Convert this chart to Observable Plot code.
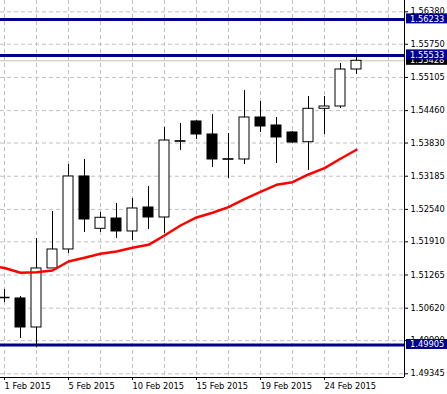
<!DOCTYPE html>
<html><head><meta charset="utf-8">
<script src="https://cdn.jsdelivr.net/npm/d3@7"></script>
<script src="https://cdn.jsdelivr.net/npm/@observablehq/plot@0.6"></script>
<style>body{margin:0;background:#fff;}</style>
</head><body><div id="chart"></div>
<script>
const days = ["2015-02-01","2015-02-02","2015-02-03","2015-02-04","2015-02-05","2015-02-06","2015-02-08","2015-02-09","2015-02-10","2015-02-11","2015-02-12","2015-02-13","2015-02-15","2015-02-16","2015-02-17","2015-02-18","2015-02-19","2015-02-20","2015-02-22","2015-02-23","2015-02-24","2015-02-25","2015-02-26"];
const open  = [1.50823,1.50809,1.50245,1.51392,1.51761,1.53180,1.52163,1.52363,1.52111,1.52577,1.52383,1.53865,1.54249,1.53996,1.53515,1.53510,1.54326,1.54171,1.54035,1.53846,1.54495,1.54540,1.55259];
const high  = [1.50984,1.50848,1.51975,1.52499,1.53413,1.53510,1.52480,1.52655,1.52752,1.52985,1.54132,1.54210,1.54268,1.54385,1.54015,1.54851,1.54637,1.54326,1.54054,1.54734,1.54734,1.55376,1.55531];
const low   = [1.50731,1.50031,1.49850,1.51388,1.51683,1.52091,1.52091,1.51975,1.51936,1.52150,1.52072,1.53685,1.53899,1.53355,1.53141,1.53413,1.54035,1.53432,1.53821,1.53296,1.53996,1.54501,1.55162];
const close = [1.50813,1.50245,1.51392,1.51761,1.53180,1.52344,1.52377,1.52111,1.52558,1.52383,1.53879,1.53855,1.53996,1.53510,1.53505,1.54326,1.54151,1.53938,1.53840,1.54495,1.54540,1.55259,1.55428];
// moving average, first value belongs to the bar before 1 Feb
const ma = [1.51450,1.51401,1.51308,1.51320,1.51353,1.51528,1.51600,1.51677,1.51722,1.51796,1.51852,1.52033,1.52227,1.52383,1.52474,1.52583,1.52738,1.52880,1.53018,1.53069,1.53219,1.53341,1.53524,1.53699];
const levels = [1.56233, 1.55533, 1.49905];
const yTicks = [1.56380,1.55750,1.55105,1.54460,1.53830,1.53185,1.52540,1.51910,1.51265,1.50620,1.49990,1.49345];
const xTickIndex = [0,4,8,12,16,20];
const xTickLabels = ["1 Feb 2015","5 Feb 2015","10 Feb 2015","15 Feb 2015","19 Feb 2015","24 Feb 2015"];
const bid = close[close.length-1];

const candles = days.map((d,i)=>({i, day:d, open:open[i], high:high[i], low:low[i], close:close[i]}));
const maData = ma.map((v,k)=>({i:k-1, v}));
const bw = 5/16;
const yMin = 1.49273, yMax = 1.56600;
const navy = "#00008b";
const grid = {stroke:"#c0c0c0", strokeOpacity:1, strokeDasharray:"4,3"};

const plot = Plot.plot({
  width:447, height:394, marginLeft:0, marginRight:43, marginTop:0, marginBottom:17,
  style:{fontFamily:"DejaVu Sans", fontSize:"8.3px", background:"#fff", color:"#000", overflow:"visible"},
  x:{type:"linear", domain:[-0.25,25], axis:null, label:null},
  y:{domain:[yMin,yMax], axis:null, label:null},
  marks:[
    Plot.gridY(yTicks, grid),
    Plot.gridX(d3.range(0,25,2), grid),
    Plot.ruleY([bid], {stroke:"#c0c0c0"}),
    Plot.ruleY(levels, {stroke:navy, strokeWidth:3}),
    Plot.ruleX(candles, {x:"i", y1:"low", y2:"high", stroke:"#000"}),
    Plot.rect(candles.filter(d=>d.close>=d.open), {x1:d=>d.i-bw, x2:d=>d.i+bw, y1:"open", y2:"close", fill:"#fff", stroke:"#000"}),
    Plot.rect(candles.filter(d=>d.close<d.open), {x1:d=>d.i-bw, x2:d=>d.i+bw, y1:"open", y2:"close", fill:"#000", stroke:"#000"}),
    Plot.line(maData, {x:"i", y:"v", stroke:"#ff0000", strokeWidth:2.5, clip:true}),
    Plot.ruleX([25], {stroke:"#000"}),
    Plot.ruleY([yMin], {stroke:"#000"}),
    Plot.axisY(yTicks, {anchor:"right", tickFormat:d=>d.toFixed(5), tickSize:3, tickPadding:3, label:null}),
    Plot.axisX(xTickIndex, {anchor:"bottom", tickFormat:d=>xTickLabels[xTickIndex.indexOf(d)], tickSize:3, tickPadding:3, textAnchor:"start", label:null})
  ]
});

const ys = plot.scale("y");
const svg = d3.select(plot);
const boxes = [{v:bid, fill:"#000"}, ...levels.map(v=>({v, fill:navy}))];
const g = svg.append("g");
for (const b of boxes) {
  const y = ys.apply(b.v);
  g.append("rect").attr("x",406).attr("y",y-5.5).attr("width",41).attr("height",10).attr("fill",b.fill);
  g.append("text").attr("x",410).attr("y",y).attr("dy","0.32em")
    .attr("text-anchor","start").attr("font-family","DejaVu Sans").attr("font-size","8.3px")
    .attr("fill","#fff").style("fill","#fff").text(b.v.toFixed(5));
}
document.getElementById("chart").appendChild(plot);
</script>
</body></html>
